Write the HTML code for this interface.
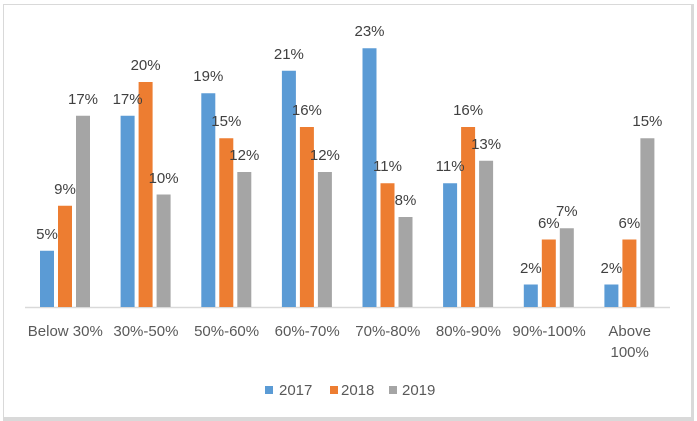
<!DOCTYPE html>
<html>
<head>
<meta charset="utf-8">
<style>
html,body{margin:0;padding:0;background:#fff;}
svg{display:block;}
text{font-family:"Liberation Sans",sans-serif;font-size:15px;}
</style>
</head>
<body>
<svg width="697" height="421" viewBox="0 0 697 421" xmlns="http://www.w3.org/2000/svg">
<rect x="0" y="0" width="697" height="421" fill="#fff"/>
<!-- border -->
<line x1="3.5" y1="4" x2="3.5" y2="418" stroke="#d9d9d9" stroke-width="1"/>
<line x1="3" y1="4.5" x2="692" y2="4.5" stroke="#d9d9d9" stroke-width="1"/>
<rect x="691" y="4" width="3" height="417" fill="#d9d9d9"/>
<rect x="3" y="417" width="691" height="4" fill="#d9d9d9"/>

<!-- axis -->
<line x1="25" y1="307.5" x2="670" y2="307.5" stroke="#d9d9d9" stroke-width="1.5"/>

<g id="bars">
<!-- cat 0 c=65.31 -->
<rect x="40" y="250.75" width="14" height="56.25" fill="#5b9bd5"/>
<rect x="58" y="205.75" width="14" height="101.25" fill="#ed7d31"/>
<rect x="76" y="115.75" width="14" height="191.25" fill="#a5a5a5"/>
<!-- cat 1 c=145.94 -->
<rect x="120.6" y="115.75" width="14" height="191.25" fill="#5b9bd5"/>
<rect x="138.6" y="82" width="14" height="225" fill="#ed7d31"/>
<rect x="156.6" y="194.5" width="14" height="112.5" fill="#a5a5a5"/>
<!-- cat 2 c=226.56 -->
<rect x="201.3" y="93.25" width="14" height="213.75" fill="#5b9bd5"/>
<rect x="219.3" y="138.25" width="14" height="168.75" fill="#ed7d31"/>
<rect x="237.3" y="172" width="14" height="135" fill="#a5a5a5"/>
<!-- cat 3 c=307.19 -->
<rect x="281.9" y="70.75" width="14" height="236.25" fill="#5b9bd5"/>
<rect x="299.9" y="127" width="14" height="180" fill="#ed7d31"/>
<rect x="317.9" y="172" width="14" height="135" fill="#a5a5a5"/>
<!-- cat 4 c=387.81 -->
<rect x="362.5" y="48.25" width="14" height="258.75" fill="#5b9bd5"/>
<rect x="380.5" y="183.25" width="14" height="123.75" fill="#ed7d31"/>
<rect x="398.5" y="217" width="14" height="90" fill="#a5a5a5"/>
<!-- cat 5 c=468.44 -->
<rect x="443.1" y="183.25" width="14" height="123.75" fill="#5b9bd5"/>
<rect x="461.1" y="127" width="14" height="180" fill="#ed7d31"/>
<rect x="479.1" y="160.75" width="14" height="146.25" fill="#a5a5a5"/>
<!-- cat 6 c=549.06 -->
<rect x="523.8" y="284.5" width="14" height="22.5" fill="#5b9bd5"/>
<rect x="541.8" y="239.5" width="14" height="67.5" fill="#ed7d31"/>
<rect x="559.8" y="228.25" width="14" height="78.75" fill="#a5a5a5"/>
<!-- cat 7 c=629.69 -->
<rect x="604.4" y="284.5" width="14" height="22.5" fill="#5b9bd5"/>
<rect x="622.4" y="239.5" width="14" height="67.5" fill="#ed7d31"/>
<rect x="640.4" y="138.25" width="14" height="168.75" fill="#a5a5a5"/>
</g>

<g fill="#404040" text-anchor="middle">
<text x="47" y="239">5%</text>
<text x="65" y="194">9%</text>
<text x="83" y="104">17%</text>

<text x="127.6" y="104">17%</text>
<text x="145.6" y="70">20%</text>
<text x="163.6" y="183">10%</text>

<text x="208.3" y="81">19%</text>
<text x="226.3" y="126">15%</text>
<text x="244.3" y="160">12%</text>

<text x="288.9" y="59">21%</text>
<text x="306.9" y="115">16%</text>
<text x="324.9" y="160">12%</text>

<text x="369.5" y="36">23%</text>
<text x="387.5" y="171">11%</text>
<text x="405.5" y="205">8%</text>

<text x="450.1" y="171">11%</text>
<text x="468.1" y="115">16%</text>
<text x="486.1" y="149">13%</text>

<text x="530.8" y="273">2%</text>
<text x="548.8" y="228">6%</text>
<text x="566.8" y="216">7%</text>

<text x="611.4" y="273">2%</text>
<text x="629.4" y="228">6%</text>
<text x="647.4" y="126">15%</text>
</g>

<g fill="#595959" text-anchor="middle">
<text x="65.3" y="336">Below 30%</text>
<text x="145.9" y="336">30%-50%</text>
<text x="226.6" y="336">50%-60%</text>
<text x="307.2" y="336">60%-70%</text>
<text x="387.8" y="336">70%-80%</text>
<text x="468.4" y="336">80%-90%</text>
<text x="549.1" y="336">90%-100%</text>
<text x="629.7" y="336">Above</text>
<text x="629.7" y="357">100%</text>
</g>

<g>
<rect x="265" y="386" width="8" height="8" fill="#5b9bd5"/>
<text x="279" y="395" fill="#595959">2017</text>
<rect x="330" y="386" width="8" height="8" fill="#ed7d31"/>
<text x="341" y="395" fill="#595959">2018</text>
<rect x="389" y="386" width="8" height="8" fill="#a5a5a5"/>
<text x="402" y="395" fill="#595959">2019</text>
</g>
</svg>
</body>
</html>
